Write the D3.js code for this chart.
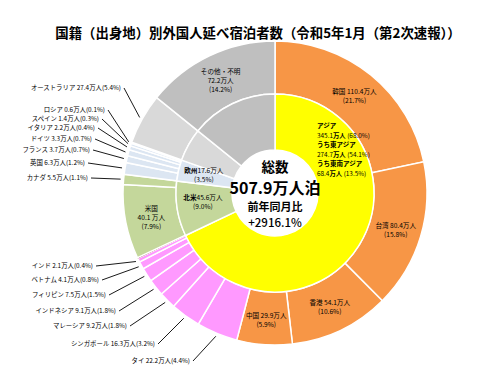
<!DOCTYPE html>
<html>
<head>
<meta charset="utf-8">
<script src="https://cdn.jsdelivr.net/npm/d3@7/dist/d3.min.js"></script>
<style>
  html, body { margin: 0; padding: 0; background: #fff; }
  text { font-family: "Noto Sans CJK JP", "Noto Sans", sans-serif; fill: #000; }
</style>
</head>
<body>
<script>
'use strict';

(function() {

  // outer ring: countries, clockwise from 12 o'clock
  const countries = ['韓国', '台湾', '香港', '中国', 'タイ', 'シンガポール', 'マレーシア', 'インドネシア',
    'フィリピン', 'ベトナム', 'インド', 'その他アジア', '米国', 'カナダ', '英国', 'フランス', 'ドイツ',
    'イタリア', 'スペイン', 'ロシア', 'オーストラリア', 'その他・不明'];
  const countryValues = [110.4, 80.4, 54.1, 29.9, 22.2, 16.3, 9.2, 9.1, 7.5, 4.1, 2.1, 0.4,
    40.1, 5.5, 6.3, 3.7, 3.3, 2.2, 1.4, 0.6, 27.4, 72.2];
  const countryShares = ['21.7%', '15.8%', '10.6%', '5.9%', '4.4%', '3.2%', '1.8%', '1.8%',
    '1.5%', '0.8%', '0.4%', '', '7.9%', '1.1%', '1.2%', '0.7%', '0.7%', '0.4%', '0.3%', '0.1%', '5.4%', '14.2%'];
  const countryGroups = ['east', 'east', 'east', 'east', 'sea', 'sea', 'sea', 'sea', 'sea', 'sea', 'sea', 'asiaOther',
    'na', 'na', 'eu', 'eu', 'eu', 'eu', 'eu', 'eu', 'oc', 'other'];

  // inner ring: regions
  const regions = ['アジア', '北米', '欧州', 'オーストラリア', 'その他・不明'];
  const regionValues = [345.1, 45.6, 17.6, 27.4, 72.2];
  const regionShares = ['68.0%', '9.0%', '3.5%', '5.4%', '14.2%'];
  const regionGroups = ['asia', 'na', 'eu', 'oc', 'other'];

  // asia breakdown text
  const asiaParts = ['アジア', 'うち東アジア', 'うち東南アジア'];
  const asiaValues = [345.1, 274.7, 68.4];
  const asiaShares = ['68.0%', '54.1%', '13.5%'];

  const totalText = '507.9';
  const yoyText = '+2916.1%';

  const colors = {
    east: '#F79646', sea: '#FF99FF', asiaOther: '#7B1010', na: '#C4D79B',
    eu: '#DCE6F2', oc: '#D9D9D9', other: '#BFBFBF', asia: '#FFFF00'
  };

  const msm = { width: 479, height: 367, cx: 275, cy: 193, r0: 43, r1: 99, r2: 152 };

  // slices labelled inside the outer ring
  const insideLabels = ['韓国', '台湾', '香港', '中国', '米国', 'その他・不明'];
  // callout label anchors (right edge x, middle y)
  const calloutPos = {
    'オーストラリア': [121, 88], 'ロシア': [105, 110], 'スペイン': [99, 119], 'イタリア': [95, 128],
    'ドイツ': [92, 139], 'フランス': [90, 150], '英国': [85, 163], 'カナダ': [88, 178],
    'インド': [93, 266], 'ベトナム': [99, 280], 'フィリピン': [106, 295], 'インドネシア': [116, 311],
    'マレーシア': [127, 326], 'シンガポール': [155, 344], 'タイ': [190, 361]
  };

  const svg = d3.select('body').append('svg')
    .attr('width', msm.width)
    .attr('height', msm.height);

  // title
  svg.append('text')
    .attr('x', 258)
    .attr('y', 33)
    .attr('text-anchor', 'middle')
    .attr('dy', '0.35em')
    .style('font-size', '13.4px')
    .style('font-weight', 'bold')
    .text('国籍（出身地）別外国人延べ宿泊者数（令和5年1月（第2次速報））');

  const g = svg.append('g').attr('transform', 'translate(' + msm.cx + ',' + msm.cy + ')');

  const pie = d3.pie().sort(null).value((d) => d.value);

  const outerData = pie(countries.map((c, i) => ({
    name: c, value: countryValues[i], share: countryShares[i], group: countryGroups[i]
  })));
  const innerData = pie(regions.map((c, i) => ({
    name: c, value: regionValues[i], share: regionShares[i], group: regionGroups[i]
  })));

  const outerArc = d3.arc().innerRadius(msm.r1).outerRadius(msm.r2);
  const innerArc = d3.arc().innerRadius(msm.r0).outerRadius(msm.r1);

  g.selectAll('.outer')
    .data(outerData)
    .enter()
    .append('path')
      .attr('class', 'outer')
      .attr('d', outerArc)
      .attr('fill', (d) => colors[d.data.group])
      .attr('stroke', '#fff')
      .attr('stroke-width', (d) => d.data.group == 'asiaOther' ? 0 : 1.5);

  g.selectAll('.inner')
    .data(innerData)
    .enter()
    .append('path')
      .attr('class', 'inner')
      .attr('d', innerArc)
      .attr('fill', (d) => colors[d.data.group])
      .attr('stroke', '#fff')
      .attr('stroke-width', 1.5);

  // helper: point at angle/radius
  function polar(a, r) {
    return [Math.sin(a) * r, -Math.cos(a) * r];
  }

  // multi-line label
  function lines(parent, x, y, arr, size, lh, anchor) {
    let t = parent.append('text')
      .attr('text-anchor', anchor || 'middle')
      .style('font-size', size + 'px');
    arr.forEach((s, i) => {
      t.append('tspan')
        .attr('x', x)
        .attr('y', y + (i - (arr.length - 1) / 2) * lh)
        .attr('dy', '0.35em')
        .text(s);
    });
    return t;
  }

  // inside labels on outer ring
  outerData.filter((d) => insideLabels.includes(d.data.name)).forEach((d) => {
    let a = (d.startAngle + d.endAngle) / 2;
    let p = polar(a, 126);
    let arr;
    if (d.data.name == '米国') {
      arr = [d.data.name, d.data.value + ' 万人', '(' + d.data.share + ')'];
    } else if (d.data.name == 'その他・不明') {
      arr = [d.data.name, d.data.value + '万人', '(' + d.data.share + ')'];
    } else {
      arr = [d.data.name + ' ' + d.data.value + '万人', '(' + d.data.share + ')'];
    }
    lines(g, p[0], p[1] + 1, arr, 6.6, 9);
  });

  // callouts
  outerData.filter((d) => calloutPos[d.data.name]).forEach((d) => {
    let pos = calloutPos[d.data.name];
    let a = (d.startAngle + d.endAngle) / 2;
    let p = polar(a, msm.r2 + 3);
    svg.append('text')
      .attr('x', pos[0])
      .attr('y', pos[1])
      .attr('dy', '0.35em')
      .attr('text-anchor', 'end')
      .style('font-size', '6.4px')
      .text(d.data.name + ' ' + d.data.value + '万人(' + d.data.share + ')');
    svg.append('line')
      .attr('x1', pos[0] + 3)
      .attr('y1', pos[1])
      .attr('x2', msm.cx + p[0])
      .attr('y2', msm.cy + p[1])
      .attr('stroke', '#000')
      .attr('stroke-width', 0.9);
  });

  // inner ring labels: 北米, 欧州
  innerData.filter((d) => d.data.name == '北米' || d.data.name == '欧州').forEach((d) => {
    let a = (d.startAngle + d.endAngle) / 2;
    let p = polar(a, 71);
    let t = g.append('text')
      .attr('text-anchor', 'middle')
      .style('font-size', '6.6px');
    t.append('tspan').attr('x', p[0] - 2).attr('y', p[1] - 6.5).attr('dy', '0.35em')
      .style('font-weight', 'bold').text(d.data.name)
      .append('tspan').style('font-weight', 'normal').text(d.data.value + '万人');
    t.append('tspan').attr('x', p[0] - 2).attr('y', p[1] + 2.5).attr('dy', '0.35em')
      .text('(' + d.data.share + ')');
  });

  // asia block
  asiaParts.forEach((name, i) => {
    let y = 126 + i * 19;
    svg.append('text')
      .attr('x', 317).attr('y', y).attr('dy', '0.35em')
      .style('font-size', '6.5px').style('font-weight', 'bold')
      .text(name);
    let l2 = svg.append('text')
      .attr('x', 317).attr('y', y + 9.5).attr('dy', '0.35em')
      .style('font-size', '6.4px');
    l2.append('tspan').text(asiaValues[i]);
    l2.append('tspan').style('font-weight', 'bold').text('万人');
    l2.append('tspan').text(' (' + asiaShares[i] + ')');
  });

  // centre text
  const center = [
    { t: '総数', y: 167, size: 13.5 },
    { t: totalText + '万人泊', y: 188, size: 16 },
    { t: '前年同月比', y: 207, size: 11 },
    { t: yoyText, y: 223, size: 11.5 }
  ];
  center.forEach((c) => {
    svg.append('text')
      .attr('x', msm.cx)
      .attr('y', c.y)
      .attr('dy', '0.35em')
      .attr('text-anchor', 'middle')
      .style('font-size', c.size + 'px')
      .style('font-weight', c.t == yoyText ? '500' : 'bold')
      .text(c.t);
  });

})();
</script>
</body>
</html>
